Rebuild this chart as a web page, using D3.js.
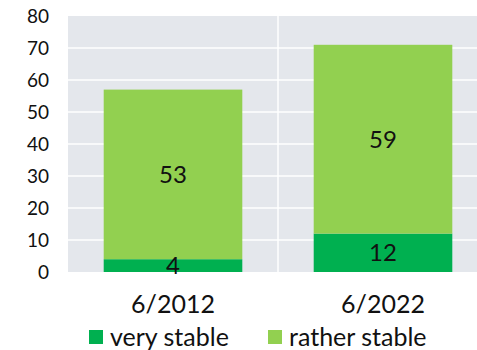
<!DOCTYPE html>
<html>
<head>
<meta charset="utf-8">
<script src="https://cdn.jsdelivr.net/npm/d3@7"></script>
<style>
  body { margin: 0; background: #fff; }
  text { font-family: Lato, "Open Sans", sans-serif; fill: #111; }
</style>
</head>
<body>
<div id="chart"></div>
<script>
var categories = ['6/2012', '6/2022'];
var veryStable = [4, 12];
var ratherStable = [53, 59];
var yTicks = [0, 10, 20, 30, 40, 50, 60, 70, 80];
var seriesNames = ['very stable', 'rather stable'];
var colors = ['#00b050', '#92d050'];

var margin = { top: 16, left: 68, bottom: 78, right: 0 },
    width = 420,
    height = 350 - margin.top - margin.bottom;

var svg = d3.select('#chart').append('svg')
    .attr('width', 477)
    .attr('height', 350)
    .append('g')
    .attr('transform', 'translate(' + margin.left + ', ' + margin.top + ')');

var x = d3.scaleBand()
    .domain(categories)
    .range([0, width])
    .paddingInner(0.34)
    .paddingOuter(0.17);

var y = d3.scaleLinear()
    .domain([0, 80])
    .range([height, 0]);

// background
svg.append('rect')
    .attr('width', width)
    .attr('height', height)
    .attr('fill', '#e4e7ec');

// horizontal grid
svg.selectAll('.hgrid')
    .data(yTicks.slice(1, -1))
    .enter()
    .append('line')
    .attr('x1', 0)
    .attr('x2', width)
    .attr('y1', d => y(d))
    .attr('y2', d => y(d))
    .attr('stroke', '#fff')
    .attr('stroke-width', 1.5);

// category separator
svg.append('line')
    .attr('x1', width / 2)
    .attr('x2', width / 2)
    .attr('y1', 0)
    .attr('y2', height)
    .attr('stroke', '#fff')
    .attr('stroke-width', 1.5);

var data = categories.map((c, i) => ({ cat: c, a: veryStable[i], b: ratherStable[i] }));
var stack = d3.stack().keys(['a', 'b'])(data);

svg.selectAll('.layer')
    .data(stack)
    .enter()
    .append('g')
    .attr('fill', (d, i) => colors[i])
    .selectAll('rect')
    .data(d => d)
    .enter()
    .append('rect')
    .attr('x', d => x(d.data.cat))
    .attr('y', d => y(d[1]))
    .attr('width', x.bandwidth())
    .attr('height', d => y(d[0]) - y(d[1]));

// value labels
stack.forEach(layer => {
    svg.selectAll(null)
        .data(layer)
        .enter()
        .append('text')
        .attr('x', d => x(d.data.cat) + x.bandwidth() / 2)
        .attr('y', d => y((d[0] + d[1]) / 2))
        .attr('dy', '0.36em')
        .attr('text-anchor', 'middle')
        .style('font-size', '24px')
        .text(d => d[1] - d[0]);
});

// y axis
var yAxis = d3.axisLeft(y).tickValues(yTicks).tickSize(0).tickPadding(19);
var gy = svg.append('g').call(yAxis);
gy.select('.domain').remove();
gy.selectAll('text').style('font-size', '19px').attr('fill', '#111');

// x axis
var xAxis = d3.axisBottom(x).tickSize(0).tickPadding(23);
var gx = svg.append('g')
    .attr('transform', 'translate(0,' + height + ')')
    .call(xAxis);
gx.select('.domain').remove();
gx.selectAll('text').style('font-size', '25px').attr('fill', '#111');

// legend
var legendX = [89, 268];
var legend = d3.select('svg').selectAll('.legend')
    .data(seriesNames)
    .enter()
    .append('g')
    .attr('transform', (d, i) => 'translate(' + legendX[i] + ', 330)');

legend.append('rect')
    .attr('width', 14)
    .attr('height', 14)
    .attr('fill', (d, i) => colors[i]);

legend.append('text')
    .attr('x', 21)
    .attr('y', 16)
    .style('font-size', '25px')
    .text(d => d);
</script>
</body>
</html>
